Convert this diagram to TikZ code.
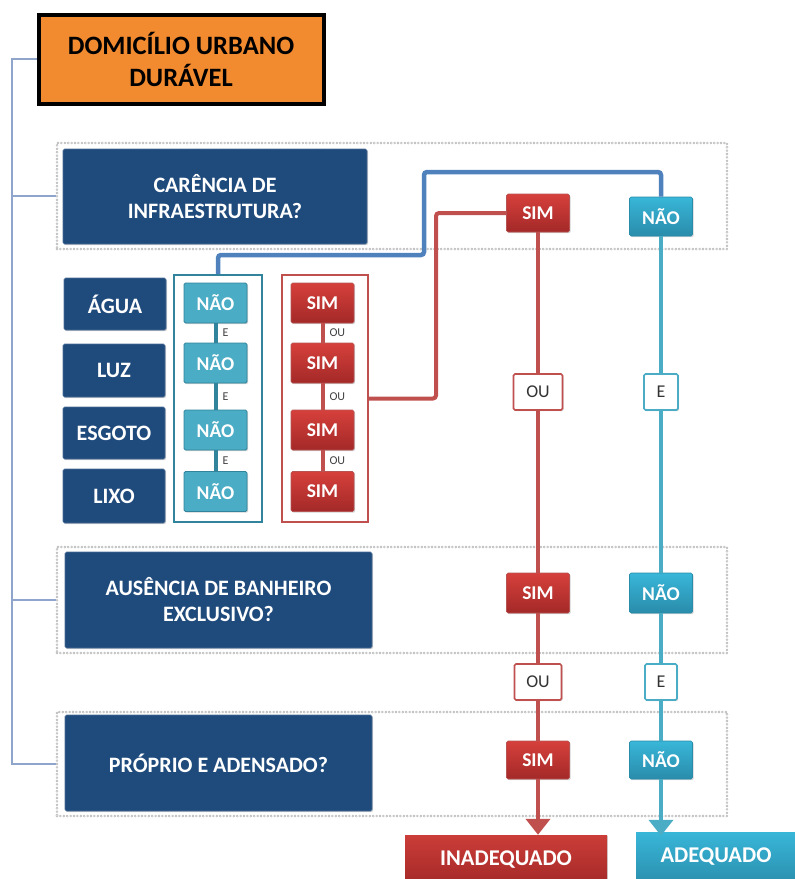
\documentclass[tikz,border=0pt]{standalone}
\usepackage{fontspec}
\setmainfont{Carlito}
\usetikzlibrary{arrows.meta,shadows}
\definecolor{qblue}{HTML}{1F4A7C}
\definecolor{orangebox}{HTML}{F28A30}
\definecolor{redtop}{HTML}{D6403B}
\definecolor{redbot}{HTML}{A32928}
\definecolor{tealtop}{HTML}{38B6D8}
\definecolor{tealbot}{HTML}{2A8CAB}
\definecolor{redln}{HTML}{C0504D}
\definecolor{tealln}{HTML}{4BACC6}
\definecolor{tealdark}{HTML}{31849B}
\definecolor{blueln}{HTML}{4F81BD}
\definecolor{bracketc}{HTML}{8FA5CC}
\definecolor{smallteal}{HTML}{4BACC6}
\tikzset{
  shadowed/.style={drop shadow={opacity=0.35,shadow xshift=1.2pt,shadow yshift=-1.2pt}},
  qbox/.style={shadowed,fill=qblue,draw=qblue!80!white,line width=0.6pt,rounded corners=1.5pt,inner sep=0pt,align=center,text=white,font=\fontsize{22}{26}\selectfont\bfseries},
  sidebox/.style={qbox},
  simbox/.style={shadowed,top color=redtop,bottom color=redbot,draw=redbot!80!white,line width=0.6pt,rounded corners=1.5pt,inner sep=0pt,minimum width=63pt,text=white,font=\fontsize{19.5}{22}\selectfont\bfseries},
  naobox/.style={shadowed,top color=tealtop,bottom color=tealbot,draw=tealbot,line width=0.6pt,rounded corners=1.5pt,inner sep=0pt,minimum width=63pt,text=white,font=\fontsize{19.5}{22}\selectfont\bfseries},
  smallnao/.style={shadowed,fill=smallteal,draw=tealdark,line width=0.8pt,rounded corners=1.5pt,inner sep=0pt,minimum width=63pt,minimum height=40pt,text=white,font=\fontsize{19.5}{22}\selectfont\bfseries},
  smallsim/.style={simbox,minimum height=40pt},
  logicred/.style={shadowed,fill=white,draw=redln,line width=1.6pt,rounded corners=1.5pt,inner sep=0pt,minimum height=36pt,text=black!80,font=\fontsize{18}{20}\selectfont},
  logicteal/.style={shadowed,fill=white,draw=tealln,line width=1.6pt,rounded corners=1.5pt,inner sep=0pt,minimum height=36pt,text=black!80,font=\fontsize{18}{20}\selectfont},
  dotbox/.style={draw=gray!65,line width=2.6pt,dash pattern=on 0pt off 3.4pt,line cap=round,inner sep=0pt,
    postaction={draw=white,line width=1.1pt,dash pattern=on 0pt off 3.4pt,line cap=round}},
  bracket/.style={draw=bracketc,line width=1.6pt},
  redline/.style={draw=redln,line width=4pt},
  tealline/.style={draw=tealln,line width=4pt},
  blueline/.style={draw=blueln,line width=4.5pt,rounded corners=3pt},
  frameteal/.style={draw=tealdark,line width=2.4pt,inner sep=0pt},
  framered/.style={draw=redln,line width=2.4pt,inner sep=0pt},
  minilabel/.style={text=black!75,font=\fontsize{12}{13}\selectfont,inner sep=2pt},
  result/.style={shadowed,inner sep=0pt,text=white,font=\fontsize{22.5}{26}\selectfont\bfseries},
}
\begin{document}
\begin{tikzpicture}[x=1pt,y=-1pt]
\useasboundingbox (0,0) rectangle (795,879);
% dotted section frames
\node[dotbox,minimum width=670pt,minimum height=106pt] (d1) at (392,196) {};
\node[dotbox,minimum width=670pt,minimum height=106pt] (d2) at (392,600) {};
\node[dotbox,minimum width=670pt,minimum height=104pt] (d3) at (392,764) {};
% title
\node[fill=orangebox,draw=black,line width=4pt,minimum width=285pt,minimum height=89pt,inner sep=0pt,align=center,font=\fontsize{26.5}{32}\selectfont\bfseries] (title) at (181,59) {DOMICÍLIO URBANO\\DURÁVEL};
% bracket
\coordinate (brT) at (12,59);
\draw[bracket] (title.west) -- (brT) |- (d3.west);
\draw[bracket] (d1.west -| brT) -- (d1.west);
\draw[bracket] (d2.west -| brT) -- (d2.west);
% question boxes
\node[qbox,minimum width=304pt,minimum height=95pt] (q1) at (215,196.5) {CARÊNCIA DE\\INFRAESTRUTURA?};
\node[qbox,minimum width=307pt,minimum height=96pt] (q2) at (218.5,600) {AUSÊNCIA DE BANHEIRO\\EXCLUSIVO?};
\node[qbox,minimum width=307pt,minimum height=96pt] (q3) at (218.5,763) {PRÓPRIO E ADENSADO?};
% side items
\node[sidebox,minimum width=102pt,minimum height=52pt] (agua) at (115,304) {ÁGUA};
\node[sidebox,minimum width=102pt,minimum height=53pt] (luz) at (114,370.5) {LUZ};
\node[sidebox,minimum width=102pt,minimum height=52pt] (esgoto) at (114,433) {ESGOTO};
\node[sidebox,minimum width=102pt,minimum height=54pt] (lixo) at (114,496) {LIXO};
% frames
\node[frameteal,minimum width=88pt,minimum height=247pt] (tf) at (218,398.5) {};
\node[framered,minimum width=86pt,minimum height=247pt] (rf) at (325,398.5) {};
% small NAO boxes
\node[smallnao] (na1) at (215.5,303) {NÃO};
\node[smallnao] (na2) at (215.5,363) {NÃO};
\node[smallnao] (na3) at (215.5,430) {NÃO};
\node[smallnao] (na4) at (215.5,491.5) {NÃO};
\draw[draw=tealdark,line width=4pt] (na1.south) -- (na2.north) node[midway,right=3pt,minilabel] {E};
\draw[draw=tealdark,line width=4pt] (na2.south) -- (na3.north) node[midway,right=3pt,minilabel] {E};
\draw[draw=tealdark,line width=4pt] (na3.south) -- (na4.north) node[midway,right=3pt,minilabel] {E};
% small SIM boxes
\node[smallsim] (si1) at (322.5,303) {SIM};
\node[smallsim] (si2) at (322.5,363) {SIM};
\node[smallsim] (si3) at (322.5,430) {SIM};
\node[smallsim] (si4) at (322.5,491.5) {SIM};
\draw[redline] (si1.south) -- (si2.north) node[midway,right=3pt,minilabel] {OU};
\draw[redline] (si2.south) -- (si3.north) node[midway,right=3pt,minilabel] {OU};
\draw[redline] (si3.south) -- (si4.north) node[midway,right=3pt,minilabel] {OU};
% column boxes
\node[simbox,minimum height=38pt] (s1) at (538,213) {SIM};
\node[naobox,minimum height=39pt] (n1) at (661,216.5) {NÃO};
\node[logicred,minimum width=49pt] (ou1) at (538,392) {OU};
\node[logicteal,minimum width=34pt] (e1) at (661,392) {E};
\node[simbox,minimum height=40pt] (s2) at (538,593) {SIM};
\node[naobox,minimum height=40pt] (n2) at (661,593) {NÃO};
\node[logicred,minimum width=47pt] (ou2) at (538,682) {OU};
\node[logicteal,minimum width=32pt] (e2) at (661,682) {E};
\node[simbox,minimum height=38pt] (s3) at (538,760) {SIM};
\node[naobox,minimum height=38pt] (n3) at (661,760) {NÃO};
% results
\node[result,top color=redtop!95!black,bottom color=redbot,minimum width=202pt,minimum height=50pt] (inad) at (506,860) {INADEQUADO};
\node[result,top color=tealtop,bottom color=tealbot!90!tealtop,minimum width=160pt,minimum height=50pt] (adeq) at (716,857) {ADEQUADO};
% connectors from top answers to frames
\draw[blueline] (n1.north) -- (661,172) -- (424,172) -- (424,255) -- (218,255) -- (tf.north);
\draw[redline,rounded corners=3pt] (s1.west) -- (436,213) -- (436,398.5) -- (rf.east);
% columns
\draw[redline] (s1.south) -- (ou1.north);
\draw[redline] (ou1.south) -- (s2.north);
\draw[redline] (s2.south) -- (ou2.north);
\draw[redline] (ou2.south) -- (s3.north);
\draw[redline,-{Triangle[width=24pt,length=16pt]}] (s3.south) -- (s3.south |- inad.north);
\draw[tealline] (n1.south) -- (e1.north);
\draw[tealline] (e1.south) -- (n2.north);
\draw[tealline] (n2.south) -- (e2.north);
\draw[tealline] (e2.south) -- (n3.north);
\draw[tealline,-{Triangle[width=24pt,length=16pt]}] (n3.south) -- ([yshift=-4pt]n3.south |- adeq.north);
\end{tikzpicture}
\end{document}
